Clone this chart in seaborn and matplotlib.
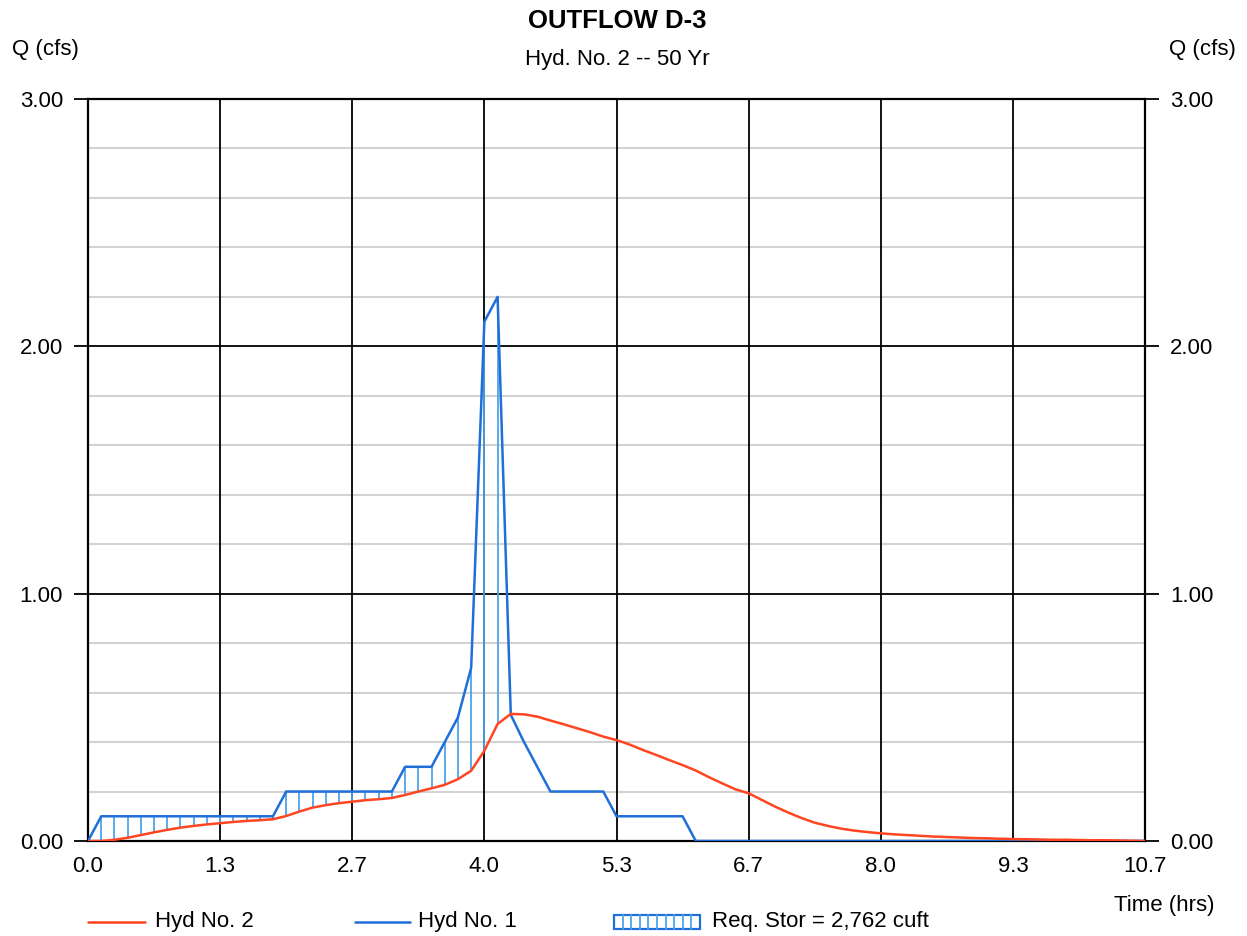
import numpy as np
import pandas as pd
import matplotlib
matplotlib.use("Agg")
import matplotlib.pyplot as plt
import seaborn as sns
from matplotlib.patches import Rectangle
from matplotlib.lines import Line2D

# Hydrograph ordinates at an 8-minute (0.1333 hr) time step
dt = 8.0 / 60.0
hyd1_inflow = [
    0.00, 0.10, 0.10, 0.10, 0.10, 0.10, 0.10, 0.10, 0.10, 0.10,
    0.10, 0.10, 0.10, 0.10, 0.10, 0.20, 0.20, 0.20, 0.20, 0.20,
    0.20, 0.20, 0.20, 0.20, 0.30, 0.30, 0.30, 0.40, 0.50, 0.70,
    2.10, 2.20, 0.51, 0.40, 0.30, 0.20, 0.20, 0.20, 0.20, 0.20,
    0.10, 0.10, 0.10, 0.10, 0.10, 0.10, 0.00, 0.00, 0.00, 0.00,
    0.00, 0.00, 0.00, 0.00, 0.00, 0.00, 0.00, 0.00, 0.00, 0.00,
    0.00, 0.00, 0.00, 0.00, 0.00, 0.00, 0.00, 0.00, 0.00, 0.00,
    0.00, 0.00, 0.00, 0.00, 0.00, 0.00, 0.00, 0.00, 0.00, 0.00,
    0.00,
]
hyd2_outflow = [
    0.000, 0.000, 0.005, 0.013, 0.024, 0.035, 0.045, 0.054, 0.061, 0.067,
    0.072, 0.077, 0.081, 0.084, 0.088, 0.101, 0.119, 0.135, 0.145, 0.153,
    0.159, 0.165, 0.169, 0.174, 0.186, 0.200, 0.213, 0.227, 0.250, 0.284,
    0.365, 0.473, 0.514, 0.512, 0.503, 0.487, 0.472, 0.456, 0.440, 0.422,
    0.408, 0.390, 0.368, 0.348, 0.327, 0.307, 0.285, 0.258, 0.233, 0.209,
    0.193, 0.166, 0.139, 0.115, 0.093, 0.074, 0.061, 0.050, 0.042, 0.036,
    0.031, 0.027, 0.024, 0.021, 0.018, 0.016, 0.014, 0.012, 0.011, 0.009,
    0.008, 0.007, 0.006, 0.005, 0.005, 0.004, 0.003, 0.003, 0.002, 0.001,
    0.000,
]
x_ticks = [0.0, 4 / 3, 8 / 3, 4.0, 16 / 3, 20 / 3, 8.0, 28 / 3, 32 / 3]
x_tick_labels = ["0.0", "1.3", "2.7", "4.0", "5.3", "6.7", "8.0", "9.3", "10.7"]
y_ticks = [0.0, 1.0, 2.0, 3.0]
y_tick_labels = ["0.00", "1.00", "2.00", "3.00"]
req_storage_label = "Req. Stor = 2,762 cuft"

time = np.arange(len(hyd1_inflow)) * dt
df = pd.DataFrame({"time": time, "hyd1": hyd1_inflow, "hyd2": hyd2_outflow})

sns.set_theme(style="white")
plt.rcParams["font.family"] = ["Liberation Sans", "DejaVu Sans"]
plt.rcParams["text.color"] = "black"
plt.rcParams["xtick.color"] = "black"
plt.rcParams["ytick.color"] = "black"

RED = "#ff4522"
BLUE = "#1f6fd8"
HATCH = "#4ea4ea"
FS = 16

fig = plt.figure(figsize=(12.47, 9.36), dpi=100)
ax = fig.add_axes([88 / 1247, 1 - 841 / 936, (1145 - 88) / 1247, (841 - 99) / 936])
ax.set_facecolor("white")

xmax = 32 / 3
ax.set_xlim(0, xmax)
ax.set_ylim(0, 3.0)

# Grid: light minor rules every 0.2 cfs, black major rules
for y in np.arange(0.2, 3.0, 0.2):
    if abs(y - round(y)) > 1e-6:
        ax.axhline(y, color="#d3d3d3", lw=1.5, zorder=0)
for y in [1.0, 2.0]:
    ax.axhline(y, color="black", lw=1.3, zorder=0.5)
for x in x_ticks[1:-1]:
    ax.axvline(x, color="black", lw=1.3, zorder=0.5)

for s in ax.spines.values():
    s.set_color("black")
    s.set_linewidth(1.6)

# Required storage: vertical hatch between inflow and outflow
storage = df[df["hyd1"] > df["hyd2"] + 0.005]
ax.vlines(storage["time"], storage["hyd2"], storage["hyd1"], color=HATCH, lw=1.3, zorder=1)

sns.lineplot(data=df, x="time", y="hyd1", ax=ax, color=BLUE, lw=1.8, zorder=3, legend=False)
sns.lineplot(data=df, x="time", y="hyd2", ax=ax, color=RED, lw=1.8, zorder=4, legend=False)

ax.set_xlabel("")
ax.set_ylabel("")
ax.set_xticks(x_ticks)
ax.set_xticklabels(x_tick_labels, fontsize=FS)
ax.set_yticks(y_ticks)
ax.set_yticklabels(y_tick_labels, fontsize=FS)
ax.tick_params(axis="x", length=0, pad=11, colors="black")
ax.tick_params(axis="y", which="both", direction="out", length=10, width=1.3,
               colors="black", left=True, right=True, labelleft=True, labelright=True, pad=8)

fig.text(617 / 1247, 1 - 21 / 936, "OUTFLOW D-3", ha="center", va="center",
         fontsize=18.5, fontweight="bold")
fig.text(617 / 1247, 1 - 59 / 936, "Hyd. No. 2 -- 50 Yr", ha="center", va="center", fontsize=FS)
fig.text(45 / 1247, 1 - 49 / 936, "Q (cfs)", ha="center", va="center", fontsize=FS)
fig.text(1202 / 1247, 1 - 49 / 936, "Q (cfs)", ha="center", va="center", fontsize=FS)
fig.text(1164 / 1247, 1 - 905 / 936, "Time (hrs)", ha="center", va="center", fontsize=FS)

# Legend row beneath the chart
ly = 1 - 922 / 936
fig.add_artist(Line2D([88 / 1247, 145 / 1247], [ly, ly], color=RED, lw=1.8))
fig.text(155 / 1247, ly, "Hyd No. 2", ha="left", va="center", fontsize=FS)
fig.add_artist(Line2D([355 / 1247, 410 / 1247], [ly, ly], color=BLUE, lw=1.8))
fig.text(418 / 1247, ly, "Hyd No. 1", ha="left", va="center", fontsize=FS)
bx0, bx1 = 614 / 1247, 700 / 1247
by0, by1 = 1 - 929 / 936, 1 - 915 / 936
for xx in np.linspace(bx0, bx1, 11)[1:-1]:
    fig.add_artist(Line2D([xx, xx], [by0, by1], color=HATCH, lw=1.3))
fig.add_artist(Rectangle((bx0, by0), bx1 - bx0, by1 - by0, transform=fig.transFigure,
                         fill=False, edgecolor=BLUE, lw=1.6))
fig.text(712 / 1247, ly, req_storage_label, ha="left", va="center", fontsize=FS)

fig.savefig("out.png", dpi=100, facecolor="white")
